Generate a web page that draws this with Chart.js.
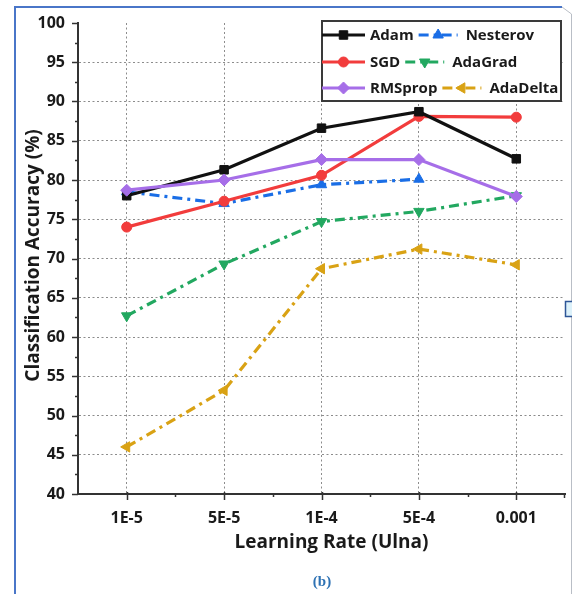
<!DOCTYPE html>
<html>
<head>
<meta charset="utf-8">
<script src="https://cdn.jsdelivr.net/npm/chart.js@4/dist/chart.umd.min.js"></script>
<style>
  html, body { margin: 0; padding: 0; background: #fff; }
  #wrap { position: relative; width: 572px; height: 594px; }
</style>
</head>
<body>
<div id="wrap"><canvas id="c" width="572" height="594"></canvas></div>
<script>
// Learning rates on the x axis
const categories = ['1E-5', '5E-5', '1E-4', '5E-4', '0.001'];

// Classification accuracy (%) per optimizer
const adam     = [78.0, 81.3, 86.6, 88.7, 82.7];
const nesterov = [78.5, 77.0, 79.4, 80.1, null];
const sgd      = [74.0, 77.3, 80.6, 88.1, 88.0];
const adagrad  = [62.7, 69.3, 74.7, 76.0, 78.0];
const rmsprop  = [78.7, 80.0, 82.6, 82.6, 77.9];
const adadelta = [46.0, 53.2, 68.7, 71.2, 69.2];

// y axis range and step
const yMin = 40, yMax = 100, yStep = 5;

const FONT = "'Open Sans', 'Noto Sans', Arial, sans-serif";
const TEXT = '#1a1a1a';
const GRID = '#8c8c8c';
const DASHDOT = [10, 5, 3, 5];

function series(label, data, color, style, radius, rotation, dash, order) {
  return {
    label, data,
    borderColor: color, backgroundColor: color,
    pointBackgroundColor: color, pointBorderColor: color,
    pointStyle: style, pointRadius: radius, pointRotation: rotation,
    pointBorderWidth: 1, pointHoverRadius: radius,
    borderWidth: 3.2, borderDash: dash, tension: 0, spanGaps: false,
    order
  };
}

const datasets = [
  series('Adam',     adam,     '#111111', 'rect',     6, 0,   [],      1),
  series('Nesterov', nesterov, '#1a6ee6', 'triangle', 6, 0,   DASHDOT, 3),
  series('SGD',      sgd,      '#f23c3c', 'circle',   5, 0,   [],      2),
  series('AdaGrad',  adagrad,  '#22a860', 'triangle', 6, 180, DASHDOT, 4),
  series('RMSprop',  rmsprop,  '#a66ee8', 'rectRot',  6, 0,   [],      0),
  series('AdaDelta', adadelta, '#d9a214', 'triangle', 6, 270, DASHDOT, 5)
];

function markerAt(ctx, ds, x, y) {
  ctx.save();
  ctx.fillStyle = ds.pointBackgroundColor;
  ctx.strokeStyle = ds.pointBorderColor;
  ctx.lineWidth = 1;
  ctx.setLineDash([]);
  Chart.helpers.drawPoint(ctx, {
    pointStyle: ds.pointStyle, radius: ds.pointRadius,
    rotation: ds.pointRotation, borderWidth: 1
  }, x, y);
  ctx.restore();
}

// Page frame, axis tick marks, titles and the boxed legend
const decorations = {
  id: 'decorations',
  beforeDraw(chart) {
    const ctx = chart.ctx;
    ctx.save();
    ctx.fillStyle = '#fff';
    ctx.fillRect(0, 0, chart.width, chart.height);
    ctx.strokeStyle = '#4a76c8';
    ctx.lineWidth = 2;
    ctx.beginPath();
    ctx.moveTo(15, 594); ctx.lineTo(15, 7); ctx.lineTo(562, 7);
    ctx.stroke();
    ctx.strokeStyle = '#b9bec6';
    ctx.lineWidth = 1;
    ctx.beginPath();
    ctx.moveTo(562, 7); ctx.lineTo(571.5, 14); ctx.lineTo(571.5, 594);
    ctx.stroke();
    ctx.fillStyle = '#dcf1fa';
    ctx.strokeStyle = '#2d5597';
    ctx.lineWidth = 1.5;
    ctx.fillRect(565, 301, 8, 16);
    ctx.strokeRect(565.5, 301.5, 8, 15);
    ctx.restore();
  },
  afterDraw(chart) {
    const ctx = chart.ctx;
    const xs = chart.scales.x, ys = chart.scales.y;
    const area = chart.chartArea;
    ctx.save();
    ctx.strokeStyle = '#333';
    ctx.lineWidth = 1.5;
    ctx.setLineDash([]);
    // y ticks: majors every 5, minors between
    for (let v = yMin; v <= yMax + 1e-9; v += yStep / 2) {
      const y = Math.round(ys.getPixelForValue(v)) + 0.5;
      const major = Math.abs(v / yStep - Math.round(v / yStep)) < 1e-6;
      ctx.beginPath();
      ctx.moveTo(area.left - (major ? 6 : 3), y);
      ctx.lineTo(area.left, y);
      ctx.stroke();
    }
    // x ticks: majors at categories, minors halfway
    for (let i = 0; i < categories.length; i++) {
      const x = Math.round(xs.getPixelForValue(i)) + 0.5;
      ctx.beginPath();
      ctx.moveTo(x, area.bottom - 2);
      ctx.lineTo(x, area.bottom + 6);
      ctx.stroke();
      if (i < categories.length - 1) {
        const xm = Math.round((xs.getPixelForValue(i) + xs.getPixelForValue(i + 1)) / 2) + 0.5;
        ctx.beginPath();
        ctx.moveTo(xm, area.bottom);
        ctx.lineTo(xm, area.bottom + 3);
        ctx.stroke();
      }
    }
    ctx.beginPath();
    ctx.moveTo(area.right - 0.5, area.bottom);
    ctx.lineTo(area.right - 0.5, area.bottom + 4);
    ctx.stroke();

    // axis titles
    ctx.fillStyle = TEXT;
    ctx.font = 'bold 19px ' + FONT;
    ctx.textAlign = 'center';
    ctx.textBaseline = 'middle';
    ctx.fillText('Learning Rate (Ulna)', (area.left + area.right) / 2 + 10, 543);
    ctx.save();
    ctx.translate(34, (area.top + area.bottom) / 2 - 3);
    ctx.rotate(-Math.PI / 2);
    ctx.fillText('Classification Accuracy (%)', 0, 0);
    ctx.restore();
    ctx.fillStyle = '#2e72b4';
    ctx.font = "bold 15px 'Liberation Serif', 'DejaVu Serif', serif";
    ctx.fillText('(b)', 322, 582);

    // legend box
    const box = { x: 322, y: 21, w: 239, h: 80 };
    ctx.fillStyle = '#fff';
    ctx.fillRect(box.x, box.y, box.w, box.h);
    ctx.strokeStyle = '#3a3a3a';
    ctx.lineWidth = 2;
    ctx.strokeRect(box.x, box.y, box.w, box.h);
    const rows = [[0, 1], [2, 3], [4, 5]];
    const rowY = [35, 62, 88];
    ctx.font = 'bold 15px ' + FONT;
    ctx.textAlign = 'left';
    rows.forEach((pair, r) => {
      let x = box.x;
      pair.forEach((di, k) => {
        const ds = datasets[di];
        const len = k === 0 ? 43 : 39;
        const y = rowY[r];
        ctx.save();
        ctx.strokeStyle = ds.borderColor;
        ctx.lineWidth = 3;
        ctx.setLineDash(ds.borderDash);
        ctx.beginPath();
        ctx.moveTo(x, y);
        ctx.lineTo(x + len, y);
        ctx.stroke();
        ctx.restore();
        markerAt(ctx, ds, x + len / 2, y);
        x += len + (k === 0 ? 5 : 8);
        ctx.fillStyle = TEXT;
        ctx.fillText(ds.label, x, y + 1);
        x += ctx.measureText(ds.label).width + 5;
      });
    });
    ctx.restore();
  }
};

new Chart(document.getElementById('c'), {
  type: 'line',
  data: { labels: categories, datasets },
  options: {
    responsive: false,
    animation: false,
    events: [],
    layout: { padding: { left: 0, top: 23, right: 5, bottom: 0 } },
    plugins: { legend: { display: false }, tooltip: { enabled: false } },
    scales: {
      x: {
        type: 'category',
        offset: true,
        afterFit(scale) { scale.height = 100; },
        grid: { color: GRID, lineWidth: 1, drawTicks: false, offset: false },
        border: { display: true, color: '#333', width: 2, dash: [2, 2.5] },
        ticks: { color: TEXT, font: { family: FONT, size: 16, weight: 'bold' }, padding: 15, maxRotation: 0 }
      },
      y: {
        min: yMin, max: yMax,
        afterFit(scale) { scale.width = 78; },
        grid: {
          color: c => (c.tick && (c.tick.value === yMin || c.tick.value === yMax)) ? 'rgba(0,0,0,0)' : GRID,
          lineWidth: 1, drawTicks: false
        },
        border: { display: true, color: '#333', width: 2, dash: [2, 2.5] },
        ticks: { stepSize: yStep, color: TEXT, font: { family: FONT, size: 16, weight: 'bold' }, padding: 13 }
      }
    }
  },
  plugins: [decorations]
});
</script>
</body>
</html>
